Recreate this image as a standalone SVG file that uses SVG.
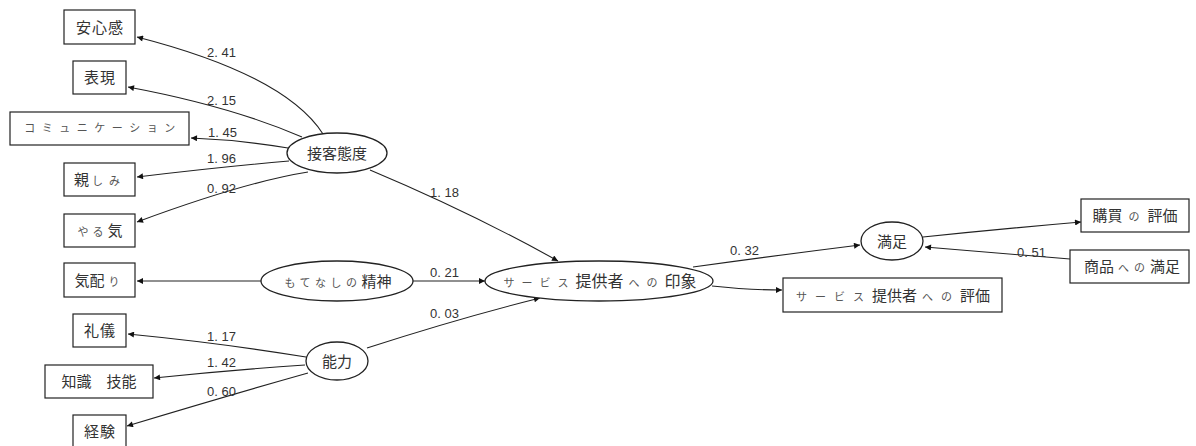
<svg xmlns="http://www.w3.org/2000/svg" width="1196" height="446" viewBox="0 0 1196 446">
<defs>
<marker id="ah" viewBox="0 0 10 10" refX="10" refY="5" markerWidth="9" markerHeight="6" markerUnits="userSpaceOnUse" orient="auto">
<path d="M0,0 L10,5 L0,10 z" fill="#111"/>
</marker>
<style>
.box{fill:#fff;stroke:#222;stroke-width:1.2}
.lat{fill:#fff;stroke:#222;stroke-width:1.3}
.t{font-family:"Noto Sans CJK JP","Liberation Sans",sans-serif;font-size:15px;fill:#333;text-anchor:middle}
.k{font-size:11px;fill:#555;letter-spacing:6px}
.c path{fill:none;stroke:#222;stroke-width:1.1;marker-end:url(#ah)}
.n{font-family:"Liberation Sans",Arial,sans-serif;font-size:13px;fill:#333}
</style>
</defs>
<rect width="1196" height="446" fill="#fff"/>

<g id="connectors" class="c">
<path d="M323,134 Q285,75 137,37"/>
<path d="M302,137 Q230,106 128,87"/>
<path d="M288,148 Q240,140 191,138"/>
<path d="M289,161 Q220,167 137,177"/>
<path d="M308,172 Q245,182 137,222"/>
<path d="M370,170 Q470,212 558,261"/>
<path d="M261,281 L137,281"/>
<path d="M413,281 L485,281"/>
<path d="M306,357 Q220,343 128,334"/>
<path d="M305,365 Q230,370 154,378"/>
<path d="M308,373 Q230,395 127,426"/>
<path d="M367,348 Q460,318 540,298"/>
<path d="M693,267 Q780,255 860,245"/>
<path d="M712,286 Q750,290 782,290"/>
<path d="M923,237 Q1000,229 1081,222"/>
<path d="M1070,259 Q1000,253 925,247"/>
</g>

<g id="labels">
<text class="n" x="207" y="57">2. 41</text>
<text class="n" x="207" y="105">2. 15</text>
<text class="n" x="208" y="137">1. 45</text>
<text class="n" x="207" y="163">1. 96</text>
<text class="n" x="207" y="193">0. 92</text>
<text class="n" x="430" y="197">1. 18</text>
<text class="n" x="430" y="277">0. 21</text>
<text class="n" x="430" y="318">0. 03</text>
<text class="n" x="207" y="341">1. 17</text>
<text class="n" x="207" y="367">1. 42</text>
<text class="n" x="207" y="396">0. 60</text>
<text class="n" x="730" y="255">0. 32</text>
<text class="n" x="1017" y="257">0. 51</text>
</g>

<g id="n-anshinkan"><rect class="box" x="64" y="10" width="71" height="34"/><text class="t" x="100" y="33" letter-spacing="1">安心感</text></g>
<g id="n-hyougen"><rect class="box" x="73" y="61" width="53" height="33"/><text class="t" x="100" y="83" letter-spacing="1">表現</text></g>
<g id="n-comm"><rect class="box" x="10" y="112" width="179" height="33"/><text class="t" x="103" y="132"><tspan class="k" style="letter-spacing:6.5px">コミュニケーション</tspan></text></g>
<g id="n-shitashimi"><rect class="box" x="64" y="163" width="71" height="33"/><text class="t" x="100" y="185">親<tspan class="k" dx="3">しみ</tspan></text></g>
<g id="n-yaruki"><rect class="box" x="64" y="214" width="71" height="33"/><text class="t" x="100" y="236"><tspan class="k" style="letter-spacing:4px">やる</tspan>気</text></g>
<g id="n-kikubari"><rect class="box" x="64" y="263" width="71" height="34"/><text class="t" x="100" y="286">気配<tspan class="k" dx="4">り</tspan></text></g>
<g id="n-reigi"><rect class="box" x="73" y="314" width="53" height="33"/><text class="t" x="100" y="336" letter-spacing="1">礼儀</text></g>
<g id="n-chishiki"><rect class="box" x="45" y="365" width="108" height="33"/><text class="t" x="99" y="387">知識　技能</text></g>
<g id="n-keiken"><rect class="box" x="73" y="415" width="53" height="34"/><text class="t" x="100" y="437" letter-spacing="1">経験</text></g>

<g id="n-sekkyaku"><ellipse class="lat" cx="337" cy="153" rx="50" ry="20"/><text class="t" x="337" y="159">接客態度</text></g>
<g id="n-motenashi"><ellipse class="lat" cx="337" cy="281" rx="76" ry="20"/><text class="t" x="338" y="287"><tspan class="k" style="letter-spacing:4.5px">もてなしの</tspan>精神</text></g>
<g id="n-nouryoku"><ellipse class="lat" cx="337" cy="361" rx="31" ry="19"/><text class="t" x="337" y="367">能力</text></g>
<g id="n-inshou"><ellipse class="lat" cx="599" cy="281" rx="114" ry="20"/><text class="t" x="600" y="287" style="font-size:16px"><tspan class="k" style="letter-spacing:7px">サービス</tspan>提供者<tspan class="k" dx="5" style="letter-spacing:7px">への</tspan>印象</text></g>
<g id="n-manzoku"><ellipse class="lat" cx="892" cy="241" rx="31" ry="19"/><text class="t" x="892" y="247">満足</text></g>

<g id="n-hyouka"><rect class="box" x="783" y="278" width="219" height="34"/><text class="t" x="893" y="301"><tspan class="k" style="letter-spacing:8px">サービス</tspan>提供者<tspan class="k" dx="5" style="letter-spacing:8px">への</tspan>評価</text></g>
<g id="n-kobai"><rect class="box" x="1081" y="199" width="108" height="33"/><text class="t" x="1135" y="221">購買<tspan class="k" dx="6" style="letter-spacing:8px">の</tspan>評価</text></g>
<g id="n-shouhin"><rect class="box" x="1070" y="250" width="119" height="33"/><text class="t" x="1132" y="272">商品<tspan class="k" dx="4" style="letter-spacing:5px">への</tspan>満足</text></g>
</svg>
